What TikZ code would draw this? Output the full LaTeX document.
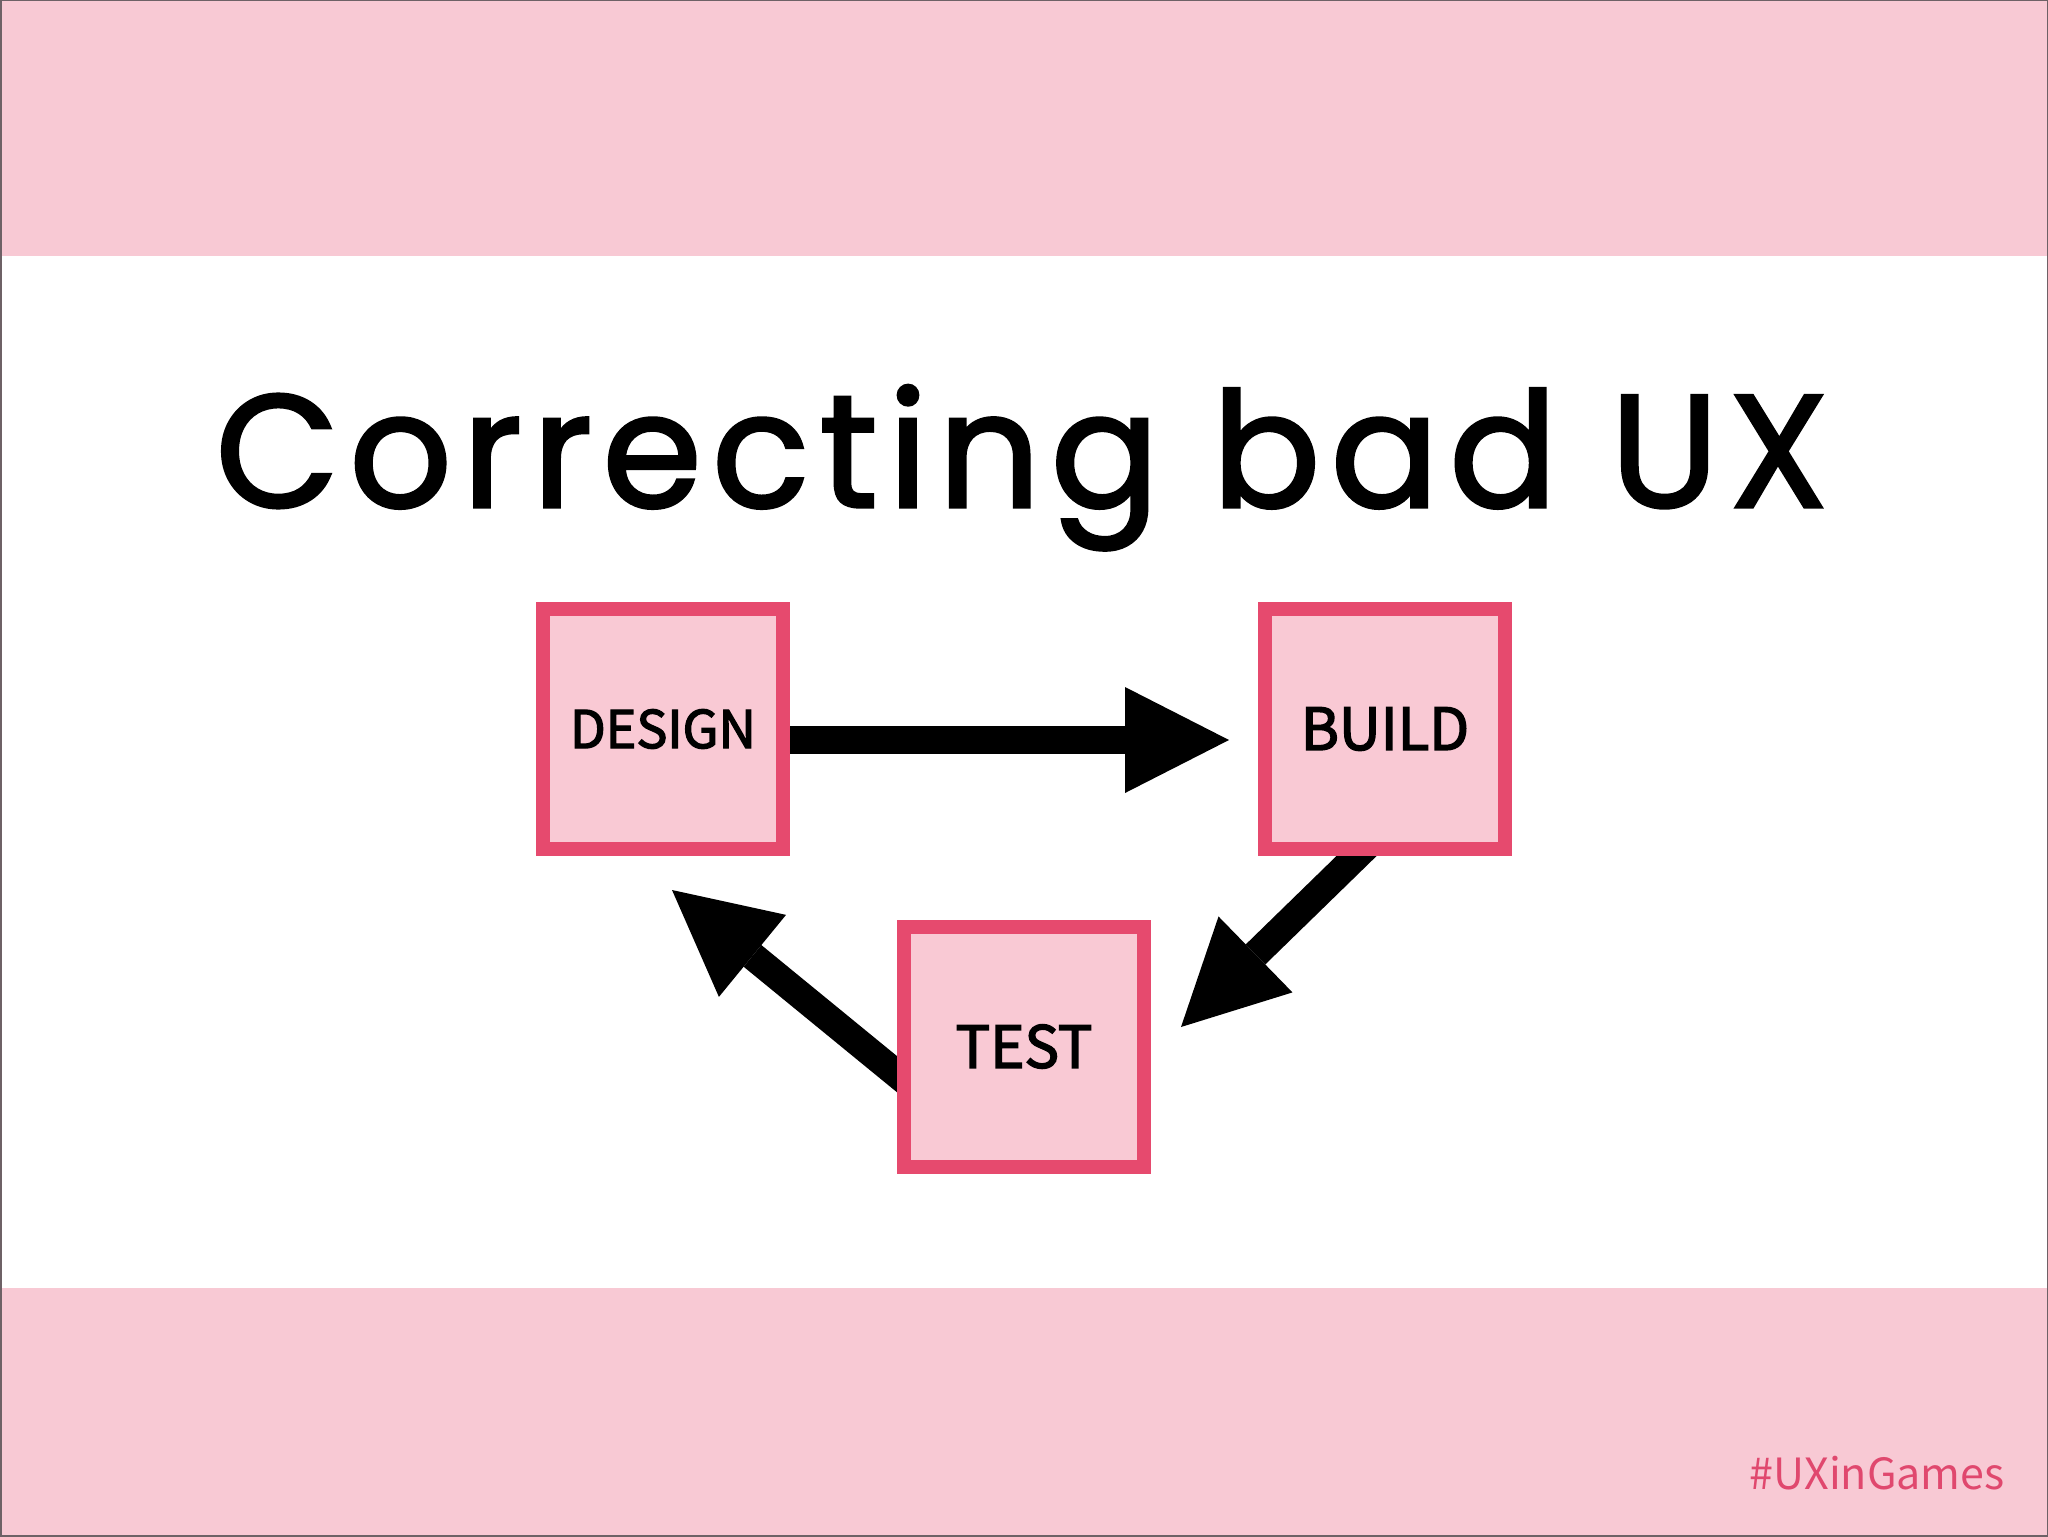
\documentclass[tikz,border=0pt]{standalone}
\usepackage{fontspec}
\usetikzlibrary{arrows.meta,calc}
\newfontfamily\titlefont[LetterSpace=6.5,FakeBold=2]{Poppins}
\newfontfamily\boxfont[FakeBold=2.6]{Noto Sans CJK SC}
\newfontfamily\tagfont{Noto Sans CJK SC}
\definecolor{bandpink}{HTML}{F8C9D4}
\definecolor{boxfill}{HTML}{F9C9D4}
\definecolor{boxline}{HTML}{E64A6E}
\definecolor{tagcol}{HTML}{E0486E}
\definecolor{framecol}{HTML}{6E6166}
\pgfdeclarelayer{bglayer}
\pgfdeclarelayer{arrowlayer}
\pgfsetlayers{bglayer,arrowlayer,main}
\begin{document}
\begin{tikzpicture}[x=0.5pt,y=-0.5pt,
  stagebox/.style={draw=boxline, fill=boxfill, line width=7pt,
    minimum width=120pt, minimum height=120pt, inner sep=0pt},
  fatarrow/.style={line width=14pt,
    -{Triangle[length=52pt,width=53pt,line width=0pt]}}]
\useasboundingbox (0,0) rectangle (2048,1536);
% bands
\begin{pgfonlayer}{bglayer}
\fill[white] (0,0) rectangle (2048,1536);
\fill[bandpink] (0,0) rectangle (2048,256);
\fill[bandpink] (0,1288) rectangle (2048,1536);
\draw[framecol, line width=1pt] (0.5,0.5) rectangle (2047.5,1535.5);
\end{pgfonlayer}
% title
\node[anchor=base, inner sep=0pt, font=\titlefont\fontsize{80}{90}\selectfont] (title) at (1022,507) {Correcting bad UX};
% boxes
\node[stagebox, font=\boxfont\fontsize{26}{30}\selectfont] (design) at (663,729) {DESIGN};
\node[stagebox, font=\boxfont\fontsize{29}{32}\selectfont] (build) at (1385,729) {BUILD};
\node[stagebox, font=\boxfont\fontsize{29}{32}\selectfont] (test) at (1024,1046.5) {TEST};
% arrow coordinates
\coordinate (tipA) at (1229,740);
\coordinate (tipB) at (1181,1027);
\coordinate (tipC) at (672,890);
\begin{pgfonlayer}{arrowlayer}
\draw[fatarrow] ($(design.east)+(0,11)$) -- (tipA);
\draw[fatarrow] ($(build.south)+(-10,-18)$) -- (tipB);
\draw[fatarrow] ($(test.west)+(17.5,42)$) -- (tipC);
\end{pgfonlayer}
% hashtag
\node[anchor=base east, inner sep=0pt, text=tagcol, font=\tagfont\fontsize{21.5}{24}\selectfont] (tag) at (2005,1489) {\#UXinGames};
\end{tikzpicture}
\end{document}
